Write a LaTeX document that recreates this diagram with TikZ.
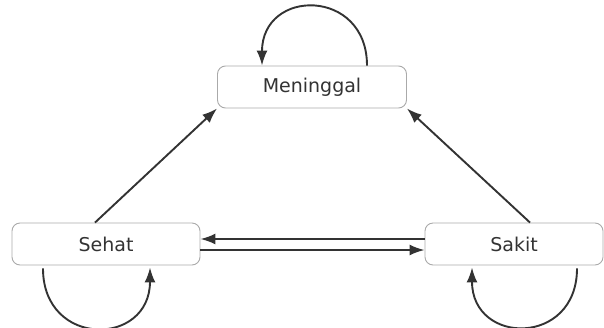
\documentclass[tikz,border=0pt]{standalone}
\usepackage{fontspec}
\setmainfont{DejaVu Sans}
\usetikzlibrary{arrows.meta, positioning}
\definecolor{inkgray}{HTML}{333333}
\definecolor{boxgray}{HTML}{AAAAAA}
\tikzset{
  state/.style = {
    draw=boxgray, fill=white, rounded corners=8pt, line width=0.9pt,
    minimum height=42pt, text=inkgray, font=\fontsize{19}{22}\selectfont
  },
  trans/.style = {
    draw=inkgray, line width=1.9pt, -{Latex[length=15pt, width=11pt]}
  }
}

\begin{document}
\begin{tikzpicture}[x=1pt, y=-1pt]

  %% Canvas
  \useasboundingbox (0,0) rectangle (604,327);

  % States
  \node[state, minimum width=189pt] (men) at (312,87) {Meninggal};
  \node[state, minimum width=188pt] (sehat) at (106,244) {Sehat};
  \node[state, minimum width=178pt] (sakit) at (514,244) {Sakit};

  % Towards Meninggal
  \draw[trans] ([xshift=-11pt]sehat.north) -- (men.south west);
  \draw[trans] ([xshift=16pt]sakit.north) -- (men.south east);

  % Sehat <-> Sakit
  \draw[trans] ([yshift=5pt]sakit.west) -- ([yshift=5pt]sehat.east);
  \draw[trans] ([yshift=-6pt]sehat.east) -- ([yshift=-6pt]sakit.west);

  % Self loops
  \draw[trans] ([xshift=55pt]men.north) to[out=90, in=90, looseness=1.9] ([xshift=-50pt]men.north);
  \draw[trans] ([xshift=-63pt, yshift=-3pt]sehat.south) to[out=-90, in=-90, looseness=1.9] ([xshift=44pt, yshift=-2pt]sehat.south);
  \draw[trans] ([xshift=63pt, yshift=-3pt]sakit.south) to[out=-90, in=-90, looseness=1.9] ([xshift=-42pt, yshift=-2pt]sakit.south);

\end{tikzpicture}
\end{document}
